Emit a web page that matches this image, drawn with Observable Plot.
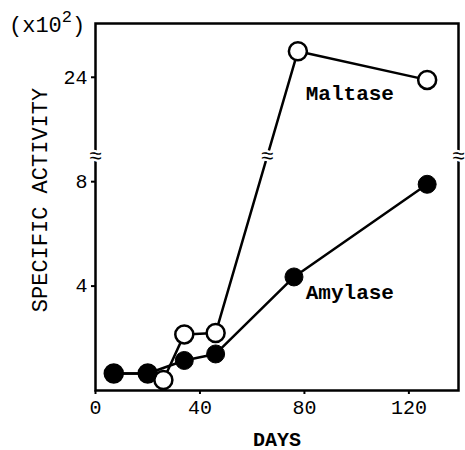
<!DOCTYPE html>
<html><head><meta charset="utf-8">
<script src="https://cdn.jsdelivr.net/npm/d3@7"></script>
<script src="https://cdn.jsdelivr.net/npm/@observablehq/plot@0.6"></script>
<style>body{margin:0;background:#fff}#chart{position:relative;width:465px;height:450px}</style>
</head><body><div id="chart"></div>
<script>
const amylaseDays = [7, 20, 34, 46, 76, 127];
const amylaseValues = [0.65, 0.65, 1.15, 1.4, 4.35, 7.9];
const maltaseDays = [7, 20, 26, 34, 46, 77.5, 127];
const maltaseValues = [0.65, 0.65, 0.4, 2.15, 2.2, 25, 23.9];
const xTicks = [0, 40, 80, 120];
const yTicks = [4, 8, 24];
const breakLow = 9, breakHigh = 21;
const gap = breakHigh - breakLow;
const tf = v => v <= breakLow ? v : v - gap;
const inv = v => v <= breakLow ? v : v + gap;

const amylase = amylaseDays.map((d, i) => ({day: d, v: tf(amylaseValues[i])}));
const maltase = maltaseDays.map((d, i) => ({day: d, v: tf(maltaseValues[i])}));

// where the maltase line crosses the break
let crossDay = null;
for (let i = 1; i < maltase.length; i++) {
  const a = maltase[i-1], b = maltase[i];
  if (a.v < breakLow && b.v > breakLow) {
    crossDay = a.day + (breakLow - a.v) / (b.v - a.v) * (b.day - a.day);
  }
}
const breaks = [{day: 0, v: breakLow}, {day: 139, v: breakLow}, {day: crossDay, v: breakLow}];

const font = "Liberation Mono, DejaVu Sans Mono, monospace";
const plot = Plot.plot({
  width: 465, height: 450,
  marginLeft: 95, marginRight: 7, marginTop: 23, marginBottom: 60,
  style: {fontFamily: font, fontSize: "20px", color: "#000", background: "#fff"},
  x: {domain: [0, 139]},
  y: {domain: [0, tf(26.06)]},
  marks: [
    Plot.frame({stroke: "#000", strokeWidth: 2.5}),
    Plot.axisX({ticks: xTicks, tickSize: 4, tickPadding: 5, fontSize: 20, strokeWidth: 2, label: null}),
    Plot.axisX({ticks: [], label: "DAYS", labelAnchor: "center", labelArrow: "none", labelOffset: 55,
      fontSize: 20, fontWeight: "bold", dx: -16}),
    Plot.axisY({ticks: yTicks.map(tf), tickFormat: d => String(inv(d)), tickSize: 4, tickPadding: 4,
      fontSize: 20, strokeWidth: 2, label: null}),
    Plot.line(maltase, {x: "day", y: "v", stroke: "#000", strokeWidth: 2.5}),
    Plot.line(amylase, {x: "day", y: "v", stroke: "#000", strokeWidth: 2.5}),
    Plot.text(breaks, {x: "day", y: "v", text: () => "≈", fontSize: 22, fill: "#000", stroke: "#fff", strokeWidth: 5}),
    Plot.dot(maltase, {x: "day", y: "v", r: 9, fill: "#fff", stroke: "#000", strokeWidth: 2.5}),
    Plot.dot(amylase, {x: "day", y: "v", r: 9, fill: "#000", stroke: "#000", strokeWidth: 1}),
    Plot.text(["Maltase"], {x: 80.5, y: tf(23.4), text: d => d, textAnchor: "start", fontSize: 21, fontWeight: "bold", fill: "#000"}),
    Plot.text(["Amylase"], {x: 80.5, y: tf(3.75), text: d => d, textAnchor: "start", fontSize: 21, fontWeight: "bold",
      fill: "#000", stroke: "#fff", strokeWidth: 3})
  ]
});
document.getElementById("chart").appendChild(plot);
const svg = d3.select(plot);
const t = svg.append("text").attr("x", 9).attr("y", 32).attr("text-anchor", "start")
  .attr("font-family", font).attr("font-size", 22).attr("fill", "#000");
t.append("tspan").text("(x10");
t.append("tspan").attr("dy", -10).attr("font-size", 17).text("2");
t.append("tspan").attr("dy", 10).text(")");
svg.append("text").attr("transform", "translate(47,200) rotate(-90)").attr("text-anchor", "middle")
  .attr("font-family", font).attr("font-size", 22).attr("fill", "#000").text("SPECIFIC ACTIVITY");
</script>
</body></html>
